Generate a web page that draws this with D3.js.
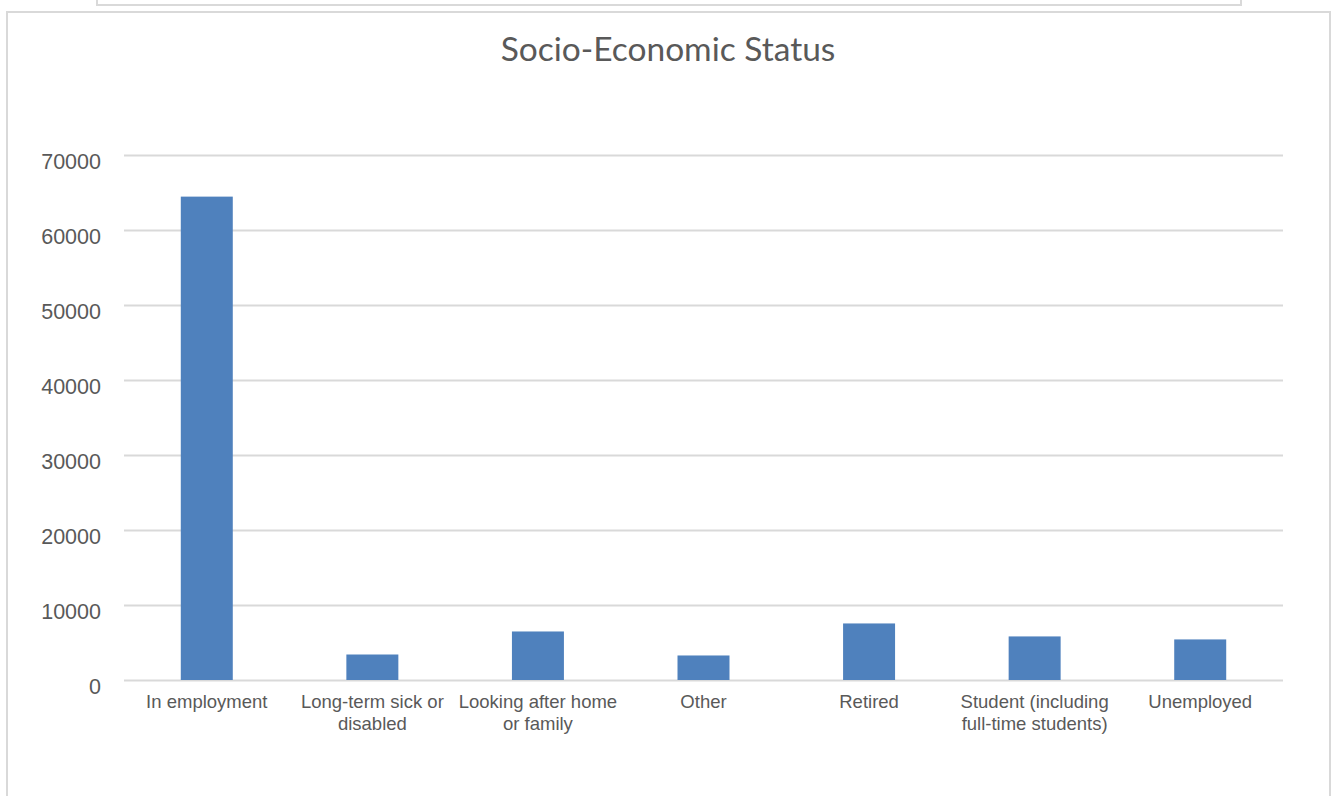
<!DOCTYPE html>
<html>
<head>
<meta charset="utf-8">
<script src="https://cdn.jsdelivr.net/npm/d3@7"></script>
<style>
  html, body { margin: 0; padding: 0; background: #fff; }
  svg { display: block; }
</style>
</head>
<body>
<div id="chart"></div>
<script>
// Data
const categories = [
    "In employment",
    "Long-term sick or disabled",
    "Looking after home or family",
    "Other",
    "Retired",
    "Student (including full-time students)",
    "Unemployed"
];
const values = [64450, 3400, 6470, 3270, 7540, 5810, 5410];
const yTicks = [0, 10000, 20000, 30000, 40000, 50000, 60000, 70000];

const W = 1331, H = 796;
const plot = { left: 124, right: 1283, top: 155, bottom: 680 };

const svg = d3.select("#chart")
    .append("svg")
    .attr("width", W)
    .attr("height", H);

// Frames (chart border and the box peeking in above it)
svg.append("rect")
    .attr("x", 97).attr("y", -20)
    .attr("width", 1144).attr("height", 25)
    .attr("fill", "none")
    .attr("stroke", "#d9d9d9")
    .attr("stroke-width", 2);

svg.append("rect")
    .attr("x", 7).attr("y", 12)
    .attr("width", 1323).attr("height", 820)
    .attr("fill", "none")
    .attr("stroke", "#d9d9d9")
    .attr("stroke-width", 2);

// Scales
const x = d3.scaleBand()
    .domain(categories)
    .range([plot.left, plot.right])
    .paddingInner(0.686)
    .paddingOuter(0.343);

const y = d3.scaleLinear()
    .domain([0, 70000])
    .range([plot.bottom, plot.top]);

// Gridlines + y labels
const yAxis = svg.append("g")
    .attr("transform", `translate(${plot.left},0)`)
    .call(d3.axisLeft(y)
        .tickValues(yTicks)
        .tickSize(-(plot.right - plot.left))
        .tickPadding(23)
        .tickFormat(d3.format("d")));

yAxis.select(".domain").remove();
yAxis.selectAll("line")
    .attr("stroke", "#d9d9d9")
    .attr("stroke-width", 2);
yAxis.selectAll("text")
    .attr("fill", "#595959")
    .attr("dy", "0.62em")
    .style("font-family", "'Liberation Sans', Arial, sans-serif")
    .style("font-size", "21.5px");

// Bars
svg.append("g")
    .selectAll("rect")
    .data(values)
    .join("rect")
    .attr("x", (d, i) => x(categories[i]))
    .attr("y", d => y(d))
    .attr("width", x.bandwidth())
    .attr("height", d => y(0) - y(d))
    .attr("fill", "#4f81bd");

// Category labels, wrapped to the band width
const xAxis = svg.append("g")
    .attr("transform", `translate(0,${plot.bottom})`)
    .call(d3.axisBottom(x).tickSize(0).tickPadding(15));

xAxis.select(".domain").remove();
xAxis.selectAll("text")
    .attr("fill", "#595959")
    .style("font-family", "'Liberation Sans', Arial, sans-serif")
    .style("font-size", "18.5px")
    .call(wrap, x.step() - 1);

function wrap(texts, width) {
    texts.each(function() {
        const text = d3.select(this);
        const words = text.text().split(/\s+/);
        const yPos = text.attr("y");
        const dy = parseFloat(text.attr("dy")) || 0;
        let line = [];
        let lineNo = 0;
        let tspan = text.text(null).append("tspan")
            .attr("x", 0).attr("y", yPos).attr("dy", dy + "em");
        words.forEach(word => {
            line.push(word);
            tspan.text(line.join(" "));
            if (tspan.node().getComputedTextLength() > width && line.length > 1) {
                line.pop();
                tspan.text(line.join(" "));
                line = [word];
                tspan = text.append("tspan")
                    .attr("x", 0).attr("y", yPos)
                    .attr("dy", (++lineNo * 1.19 + dy) + "em")
                    .text(word);
            }
        });
    });
}

// Title
svg.append("text")
    .attr("x", 668)
    .attr("y", 61)
    .attr("text-anchor", "middle")
    .attr("fill", "#595959")
    .style("font-family", "Lato, 'Open Sans', sans-serif")
    .style("font-size", "33.5px")
    .text("Socio-Economic Status");
</script>
</body>
</html>
